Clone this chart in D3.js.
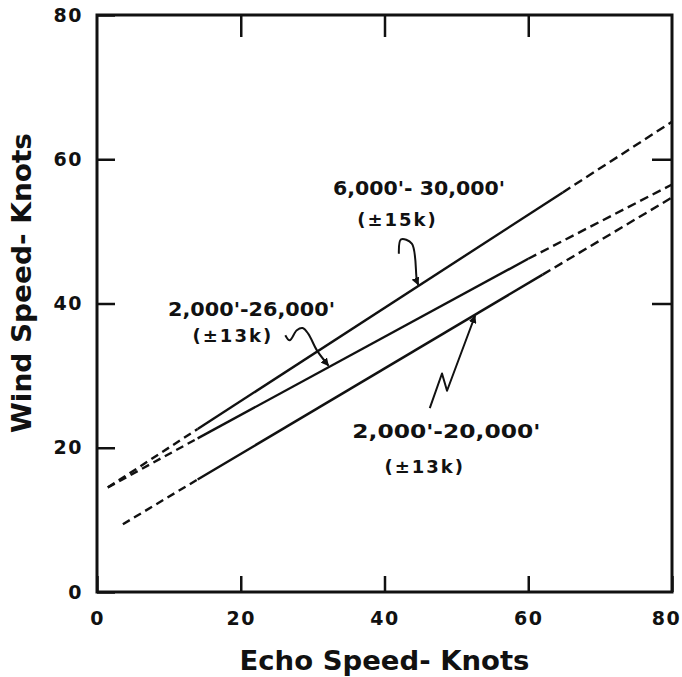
<!DOCTYPE html>
<html>
<head>
<meta charset="utf-8">
<script src="https://cdn.jsdelivr.net/npm/d3@7"></script>
<style>
  body { margin: 0; background: #fff; }
  text { font-family: "DejaVu Sans", sans-serif; font-weight: bold; fill: #111; }
</style>
</head>
<body>
<div id="chart"></div>
<script>
// tick values on both axes
var xTicks = [0, 20, 40, 60, 80];
var yTicks = [0, 20, 40, 60, 80];

// each line: [dashed start, solid start, solid end, dashed end] in (echo speed, wind speed)
var line6to30 = [[1.5, 14.5], [14, 22.6], [64.8, 55.4], [80, 65.2]];
var line2to26 = [[1.5, 14.5], [14, 21.3], [60, 46.2], [80, 56.5]];
var line2to20 = [[3.6, 9.4], [14, 15.6], [62, 44.0], [80, 54.7]];

// annotation text (label, second line) and their anchor points
var labels = [
    { text: "6,000'- 30,000'", sub: "(\u00b115k)", at: [44.8, 55.1], subAt: [41.8, 50.8], len: 172 },
    { text: "2,000'-26,000'", sub: "(\u00b113k)", at: [21.5, 38.3], subAt: [18.9, 34.6], len: 167 },
    { text: "2,000'-20,000'", sub: "(\u00b113k)", at: [48.6, 21.3], subAt: [45.6, 16.5], len: 188 }
];

// squiggly leaders from the labels to the lines
var leader1 = [[42.0, 46.9], [42.3, 48.9], [43.8, 48.3], [44.5, 43.2], [44.7, 42.6]];
var leader2 = [[26.2, 35.6], [26.8, 34.9], [27.8, 36.3], [28.6, 36.6], [29.4, 35.8], [30.6, 33.5], [32.2, 31.4]];
var leader3 = [[46.3, 25.5], [48.0, 30.3], [48.7, 27.9], [52.6, 38.3]];

var width = 682, height = 677;
var margin = { top: 15, right: 10, bottom: 85, left: 97 };

var svg = d3.select("#chart")
    .append("svg")
    .attr("width", width)
    .attr("height", height);

svg.append("rect").attr("width", width).attr("height", height).attr("fill", "#fff");

var x = d3.scaleLinear().domain([0, 80]).range([margin.left, width - margin.right]);
var y = d3.scaleLinear().domain([0, 80]).range([height - margin.bottom, margin.top]);

var x0 = x(0), x1 = x(80), y0 = y(0), y1 = y(80);

// inward tick marks on all four sides
function styleAxis(g) {
    g.select(".domain").remove();
    g.selectAll(".tick line").attr("stroke", "#111").attr("stroke-width", 2.5);
    g.selectAll(".tick text")
        .style("font-size", "19px")
        .style("letter-spacing", "1.5px")
        .attr("fill", "#111");
}

svg.append("g")
    .attr("transform", `translate(0,${y0})`)
    .call(d3.axisBottom(x).tickValues(xTicks).tickSizeInner(-16).tickSizeOuter(0).tickPadding(20).tickFormat(d3.format("d")))
    .call(styleAxis)
    .selectAll(".tick text")
    .attr("dx", d => d === 80 ? -6 : 0);

svg.append("g")
    .attr("transform", `translate(${x0},0)`)
    .call(d3.axisLeft(y).tickValues(yTicks).tickSizeInner(-18).tickSizeOuter(0).tickPadding(14).tickFormat(d3.format("d")))
    .call(styleAxis);

svg.append("g")
    .attr("transform", `translate(0,${y1})`)
    .call(d3.axisTop(x).tickValues([20, 40, 60]).tickSizeInner(-22).tickSizeOuter(0).tickFormat(""))
    .call(styleAxis);

svg.append("g")
    .attr("transform", `translate(${x1},0)`)
    .call(d3.axisRight(y).tickValues([40, 60]).tickSizeInner(-20).tickSizeOuter(0).tickFormat(""))
    .call(styleAxis);

// frame
svg.append("rect")
    .attr("x", x0).attr("y", y1)
    .attr("width", x1 - x0).attr("height", y0 - y1)
    .attr("fill", "none")
    .attr("stroke", "#111")
    .attr("stroke-width", 3);

var lineGen = d3.line().x(d => x(d[0])).y(d => y(d[1]));

// draw a line as dashed - solid - dashed
[line6to30, line2to26, line2to20].forEach(pts => {
    svg.append("path")
        .attr("d", lineGen(pts.slice(0, 2)))
        .attr("fill", "none").attr("stroke", "#111").attr("stroke-width", 2.4)
        .attr("stroke-dasharray", "8,5");
    svg.append("path")
        .attr("d", lineGen(pts.slice(1, 3)))
        .attr("fill", "none").attr("stroke", "#111").attr("stroke-width", 2.4);
    svg.append("path")
        .attr("d", lineGen(pts.slice(2, 4)))
        .attr("fill", "none").attr("stroke", "#111").attr("stroke-width", 2.4)
        .attr("stroke-dasharray", "9,5");
});

// leaders with small arrow tips
svg.append("defs").append("marker")
    .attr("id", "tip")
    .attr("viewBox", "0 0 10 10")
    .attr("refX", 9).attr("refY", 5)
    .attr("markerWidth", 4).attr("markerHeight", 4)
    .attr("orient", "auto")
    .append("path")
    .attr("d", "M0,0L10,5L0,10z")
    .attr("fill", "#111");

var smoothGen = d3.line().x(d => x(d[0])).y(d => y(d[1])).curve(d3.curveCatmullRom);
var sharpGen = d3.line().x(d => x(d[0])).y(d => y(d[1]));
[[leader1, smoothGen], [leader2, smoothGen], [leader3, sharpGen]].forEach(([pts, gen]) => {
    svg.append("path")
        .attr("d", gen(pts))
        .attr("fill", "none").attr("stroke", "#111").attr("stroke-width", 2)
        .attr("stroke-linejoin", "round")
        .attr("marker-end", "url(#tip)");
});

// annotation labels
labels.forEach(l => {
    svg.append("text")
        .attr("x", x(l.at[0])).attr("y", y(l.at[1]))
        .attr("text-anchor", "middle")
        .attr("textLength", l.len).attr("lengthAdjust", "spacingAndGlyphs")
        .style("font-size", "19px")
        .text(l.text);
    svg.append("text")
        .attr("x", x(l.subAt[0])).attr("y", y(l.subAt[1]))
        .attr("text-anchor", "middle")
        .style("font-size", "18px")
        .style("letter-spacing", "2px")
        .text(l.sub);
});

// axis titles
svg.append("text")
    .attr("x", (x0 + x1) / 2).attr("y", 670)
    .attr("text-anchor", "middle")
    .attr("textLength", 290).attr("lengthAdjust", "spacingAndGlyphs")
    .style("font-size", "26px")
    .text("Echo Speed- Knots");

svg.append("text")
    .attr("transform", "translate(31,283) rotate(-90)")
    .attr("text-anchor", "middle")
    .attr("textLength", 300).attr("lengthAdjust", "spacingAndGlyphs")
    .style("font-size", "26px")
    .text("Wind Speed- Knots");
</script>
</body>
</html>
